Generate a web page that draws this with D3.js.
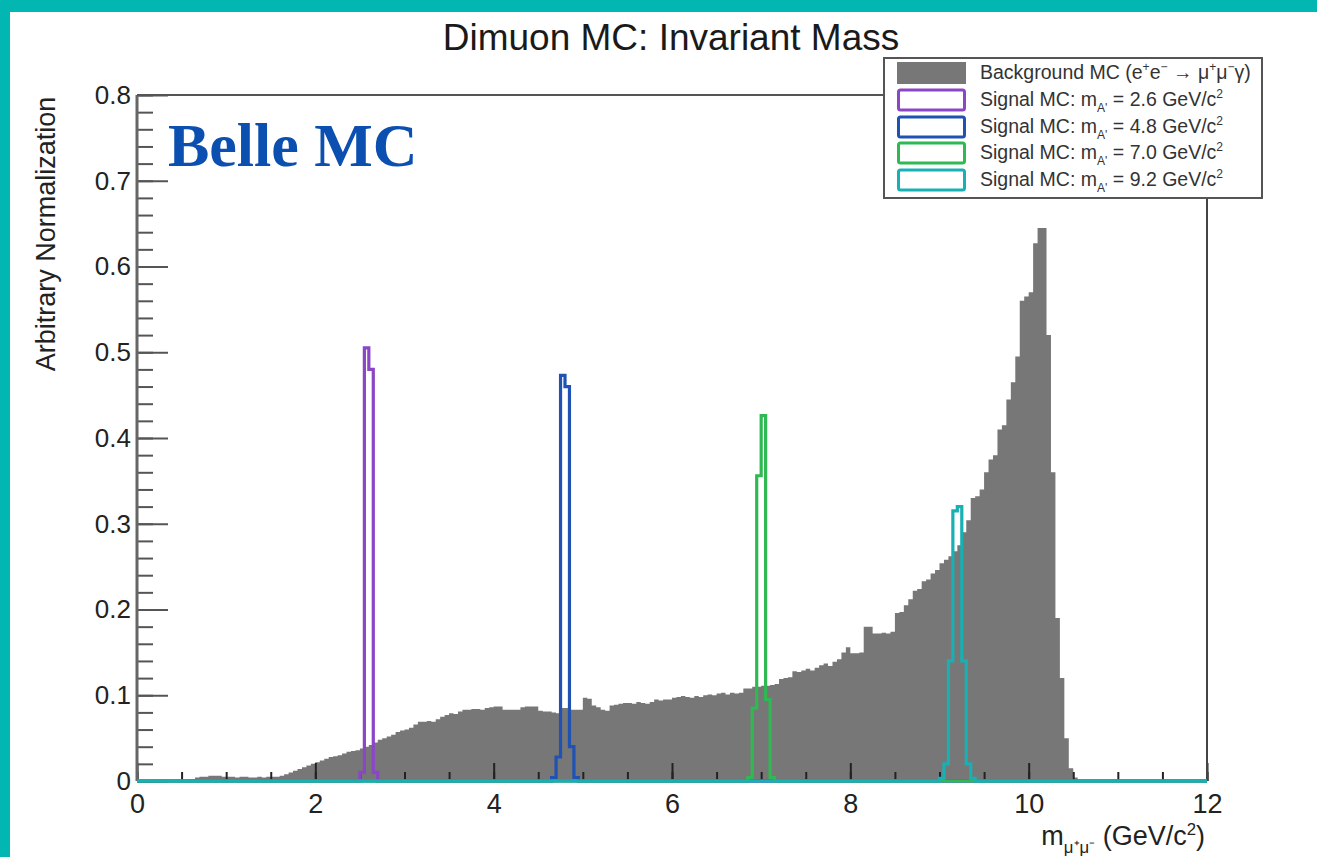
<!DOCTYPE html>
<html><head><meta charset="utf-8">
<script src="https://cdn.jsdelivr.net/npm/d3@7"></script>
<style>body{margin:0;background:#fff;} svg{display:block}</style>
</head><body><svg id="c" width="1317" height="857"></svg>
<script>
// ---------------- data ----------------
const binWidth = 0.05;          // GeV per bin
const bgStart = 0;              // first bin edge of the background histogram
const bgValues = [
  // 0.00 - 0.95
  0,0,0,0,0,0,0,0,0,0, 0,0,0.002,0.004,0.005,0.005,0.006,0.006,0.006,0.005,
  // 1.00 - 1.95
  0.005,0.005,0.004,0.005,0.005,0.004,0.004,0.005,0.004,0.005, 0.005,0.005,0.006,0.008,0.010,0.012,0.014,0.016,0.018,0.020,
  // 2.00 - 2.95
  0.022,0.024,0.026,0.028,0.029,0.030,0.032,0.034,0.035,0.036, 0.038,0.040,0.042,0.045,0.048,0.050,0.052,0.054,0.057,0.059,
  // 3.00 - 3.95
  0.060,0.062,0.066,0.069,0.069,0.070,0.069,0.072,0.075,0.077, 0.079,0.078,0.081,0.083,0.083,0.084,0.084,0.083,0.085,0.086,
  // 4.00 - 4.95
  0.087,0.087,0.083,0.083,0.083,0.083,0.086,0.087,0.087,0.087, 0.082,0.081,0.081,0.080,0.079,0.085,0.085,0.083,0.083,0.083,
  // 5.00 - 5.95
  0.097,0.096,0.088,0.086,0.083,0.082,0.088,0.089,0.090,0.091, 0.091,0.090,0.092,0.091,0.090,0.092,0.095,0.094,0.095,0.095,
  // 6.00 - 6.95
  0.097,0.098,0.099,0.098,0.097,0.099,0.098,0.100,0.101,0.100, 0.102,0.103,0.101,0.103,0.102,0.103,0.108,0.108,0.110,0.110,
  // 7.00 - 7.95
  0.111,0.111,0.112,0.113,0.119,0.120,0.121,0.128,0.127,0.129, 0.131,0.129,0.132,0.135,0.137,0.134,0.139,0.142,0.150,0.156,
  // 8.00 - 8.95
  0.149,0.149,0.150,0.180,0.180,0.172,0.172,0.173,0.172,0.174, 0.196,0.197,0.205,0.212,0.222,0.224,0.233,0.235,0.242,0.246,
  // 9.00 - 9.95
  0.254,0.258,0.262,0.268,0.275,0.290,0.304,0.330,0.332,0.340, 0.360,0.375,0.380,0.410,0.415,0.445,0.465,0.495,0.560,0.565,
  // 10.00 - 10.95
  0.570,0.627,0.645,0.645,0.520,0.360,0.190,0.120,0.050,0.015, 0.004,0,0,0,0,0,0,0,0,0,
  // 11.00 - 11.95
  0,0,0,0,0,0,0,0,0,0, 0,0,0,0,0,0,0,0,0,0
];

// signal histograms: first bin edge + bin contents (zero elsewhere)
const sig26Start = 2.50, sig26Values = [0.010, 0.505, 0.480, 0.010];
const sig48Start = 4.65, sig48Values = [0.004, 0.028, 0.473, 0.460, 0.040, 0.004];
const sig70Start = 6.85, sig70Values = [0.004, 0.085, 0.356, 0.426, 0.095, 0.004];
const sig92Start = 9.00, sig92Values = [0.003, 0.020, 0.140, 0.315, 0.320, 0.140, 0.020, 0.003];

const xRange = [0, 12];
const yRange = [0, 0.8];
const xTicks = [0, 2, 4, 6, 8, 10, 12];
const yTicks = [0, 0.1, 0.2, 0.3, 0.4, 0.5, 0.6, 0.7, 0.8];

const signalNames = ["2.6", "4.8", "7.0", "9.2"];
const signalColors = ["#8b46c6", "#1f52b3", "#2fb953", "#19b0b3"];

// ---------------- setup ----------------
const svg = d3.select("#c");
const W = 1317, H = 857;
const plot = {left: 137, right: 1207, top: 95, bottom: 781};
const FONT = "'Liberation Sans', Arial, Helvetica, sans-serif";

const x = d3.scaleLinear().domain(xRange).range([plot.left, plot.right]);
const y = d3.scaleLinear().domain(yRange).range([plot.bottom, plot.top]);

svg.append("rect").attr("width", W).attr("height", H).attr("fill", "#fff");
// teal frame
svg.append("rect").attr("x", 0).attr("y", 0).attr("width", W).attr("height", 12).attr("fill", "#02b6b2");
svg.append("rect").attr("x", 0).attr("y", 0).attr("width", 10).attr("height", H).attr("fill", "#02b6b2");

// title
svg.append("text").attr("x", 671).attr("y", 50).attr("text-anchor", "middle")
  .attr("font-family", FONT).attr("font-size", 37).attr("fill", "#1a1a1a")
  .text("Dimuon MC: Invariant Mass");

// histogram step points
function stepPoints(start, values) {
  const pts = [[xRange[0], 0], [start, 0]];
  values.forEach((v, i) => {
    const e0 = start + i * binWidth, e1 = start + (i + 1) * binWidth;
    pts.push([e0, v], [e1, v]);
  });
  pts.push([start + values.length * binWidth, 0], [xRange[1], 0]);
  return pts;
}
const line = d3.line().x(d => x(d[0])).y(d => y(d[1]));

// background filled histogram
const area = d3.area().x(d => x(d[0])).y0(y(0)).y1(d => y(d[1]));
svg.append("path").datum(stepPoints(bgStart, bgValues))
  .attr("d", area).attr("fill", "#777777").attr("stroke", "none");

// axes
const yAxisG = svg.append("g").attr("transform", `translate(${plot.left},0)`);
yAxisG.call(d3.axisLeft(y).tickValues(d3.range(0, 0.8001, 0.02)).tickSize(-16).tickFormat(""))
  .call(g => g.select(".domain").remove())
  .call(g => g.selectAll(".tick line").attr("stroke", "#555").attr("stroke-width", 2));
yAxisG.append("g").call(d3.axisLeft(y).tickValues(yTicks).tickSize(-31).tickPadding(6)
    .tickFormat(d => d === 0 ? "0" : d3.format(".1f")(d)))
  .call(g => g.select(".domain").remove())
  .call(g => g.selectAll(".tick line").attr("stroke", "#555").attr("stroke-width", 2))
  .call(g => g.selectAll("text").attr("font-family", FONT).attr("font-size", 26).attr("fill", "#222"));

const xAxisG = svg.append("g").attr("transform", `translate(0,${plot.bottom})`);
xAxisG.call(d3.axisBottom(x).tickValues(d3.range(0, 12.001, 0.5)).tickSize(-9).tickFormat(""))
  .call(g => g.select(".domain").remove())
  .call(g => g.selectAll(".tick line").attr("stroke", "#222").attr("stroke-width", 2));
xAxisG.append("g").call(d3.axisBottom(x).tickValues(xTicks).tickSize(-18).tickPadding(13).tickFormat(d3.format("d")))
  .call(g => g.select(".domain").remove())
  .call(g => g.selectAll(".tick line").attr("stroke", "#222").attr("stroke-width", 2))
  .call(g => g.selectAll("text").attr("font-family", FONT).attr("font-size", 27).attr("fill", "#222"));

// frame
svg.append("line").attr("x1", plot.left).attr("x2", plot.left).attr("y1", plot.top).attr("y2", plot.bottom)
  .attr("stroke", "#666").attr("stroke-width", 3);
svg.append("line").attr("x1", plot.left).attr("x2", plot.right).attr("y1", plot.top).attr("y2", plot.top)
  .attr("stroke", "#555").attr("stroke-width", 2);
svg.append("line").attr("x1", plot.right).attr("x2", plot.right).attr("y1", plot.top).attr("y2", plot.bottom)
  .attr("stroke", "#444").attr("stroke-width", 2);
svg.append("line").attr("x1", plot.left).attr("x2", plot.right).attr("y1", plot.bottom).attr("y2", plot.bottom)
  .attr("stroke", "#444").attr("stroke-width", 2);

// signal histograms
const signals = [
  [sig26Start, sig26Values], [sig48Start, sig48Values],
  [sig70Start, sig70Values], [sig92Start, sig92Values]
];
signals.forEach(([s, v], i) => {
  svg.append("path").datum(stepPoints(s, v)).attr("d", line)
    .attr("fill", "none").attr("stroke", signalColors[i]).attr("stroke-width", 3.2)
    .attr("stroke-linejoin", "miter");
});

// rich text helper
function rich(sel, parts, fs, supShift = 0.42) {
  let shift = 0;
  parts.forEach(p => {
    const target = p.s === "sup" ? -supShift * fs : p.s === "sub" ? 0.3 * fs : 0;
    sel.append("tspan").attr("dy", target - shift)
      .attr("font-size", p.s ? fs * 0.62 : fs).text(p.t);
    shift = target;
  });
}

// axis titles
svg.append("text").attr("transform", "translate(55,234) rotate(-90)")
  .attr("text-anchor", "middle").attr("font-family", FONT).attr("font-size", 27).attr("fill", "#222")
  .text("Arbitrary Normalization");

const xt = svg.append("text").attr("x", 1205).attr("y", 845).attr("text-anchor", "end")
  .attr("font-family", FONT).attr("fill", "#222");
rich(xt, [{t: "m"}, {t: "μ⁺μ⁻", s: "sub"}, {t: " (GeV/c"}, {t: "2", s: "sup"}, {t: ")"}], 27, 0.36);

// legend
const leg = svg.append("g");
leg.append("rect").attr("x", 884).attr("y", 58).attr("width", 378).attr("height", 140)
  .attr("fill", "#fff").attr("stroke", "#555").attr("stroke-width", 2);
const rowY = [73, 100, 127, 153, 180];
const legFs = 19.5;
leg.append("rect").attr("x", 897).attr("y", rowY[0] - 11).attr("width", 69).attr("height", 22)
  .attr("fill", "#777");
const t0 = leg.append("text").attr("x", 980).attr("y", rowY[0] + 6).attr("font-family", FONT).attr("fill", "#333");
rich(t0, [{t: "Background MC (e"}, {t: "+", s: "sup"}, {t: "e"}, {t: "−", s: "sup"}, {t: " → μ"}, {t: "+", s: "sup"},
  {t: "μ"}, {t: "−", s: "sup"}, {t: "γ)"}], legFs);
signalNames.forEach((m, i) => {
  const cy = rowY[i + 1];
  leg.append("rect").attr("x", 898.5).attr("y", cy - 10).attr("width", 66).attr("height", 20).attr("rx", 2)
    .attr("fill", "#fff").attr("stroke", signalColors[i]).attr("stroke-width", 3);
  const t = leg.append("text").attr("x", 980).attr("y", cy + 6).attr("font-family", FONT).attr("fill", "#333");
  rich(t, [{t: "Signal MC: m"}, {t: "A'", s: "sub"}, {t: " = " + m + " GeV/c"}, {t: "2", s: "sup"}], legFs);
});

// Belle MC label
svg.append("text").attr("x", 168).attr("y", 166).attr("font-family", "'Liberation Serif', 'Times New Roman', serif")
  .attr("font-weight", "bold").attr("font-size", 62).attr("fill", "#0b4fb0").text("Belle MC");
</script></body></html>
